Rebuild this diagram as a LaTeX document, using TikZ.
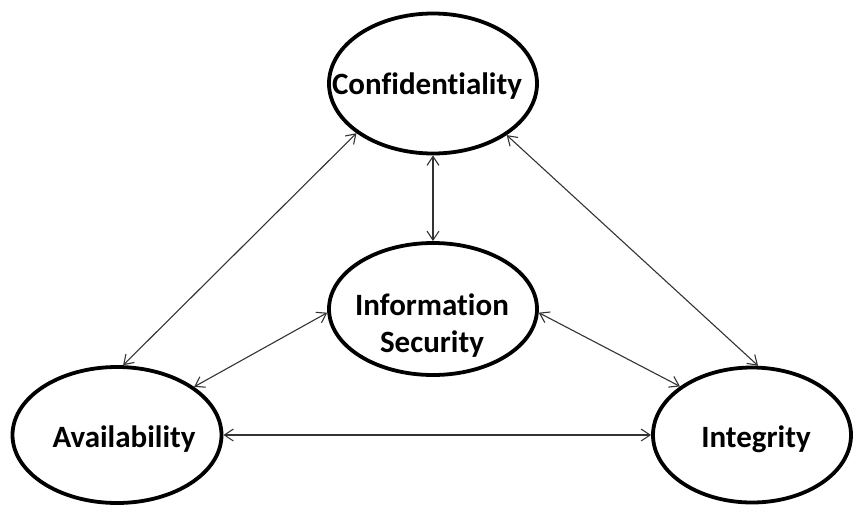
\documentclass[tikz,border=0pt]{standalone}
\usepackage{fontspec}
\setmainfont[RawFeature={-liga;-dlig;-clig}]{Carlito}
\usetikzlibrary{shapes.geometric,arrows.meta}
\tikzset{
  oval/.style={ellipse, draw=black, line width=3.8pt, inner sep=0pt},
  lbl/.style={anchor=base, font=\bfseries\fontsize{31}{37}\selectfont, text=black, inner sep=0pt, align=center},
  link/.style={{Straight Barb[length=9pt,width=12pt]}-{Straight Barb[length=9pt,width=12pt]}, line width=1.1pt, draw=black!80}
}
\begin{document}
\begin{tikzpicture}[x=1pt,y=-1pt]
\useasboundingbox (0,0) rectangle (854,504);
\node[oval, minimum width=208pt, minimum height=140pt] (conf) at (433,83.5) {};
\node[oval, minimum width=208pt, minimum height=132pt] (info) at (433,309) {};
\node[oval, minimum width=209pt, minimum height=136pt] (avail) at (117,435) {};
\node[oval, minimum width=198pt, minimum height=135pt] (integ) at (752,435) {};
\node[lbl] (tconf) at (427,94) {Confidentiality};
\node[lbl] (tinfo1) at (432,315) {Information};
\node[lbl] (tinfo2) at (432,352) {Security};
\node[lbl] (tavail) at (124,447) {Availability};
\node[lbl] (tinteg) at (756,447) {Integrity};
\draw[link] (conf.213) -- (avail.85);
\draw[link] (conf.270) -- (info.90);
\draw[link] (conf.325) -- (integ.85);
\draw[link] (info.182) -- (avail.32);
\draw[link] (info.358) -- (integ.146);
\draw[link] (avail.0) -- (integ.180);
\end{tikzpicture}
\end{document}
